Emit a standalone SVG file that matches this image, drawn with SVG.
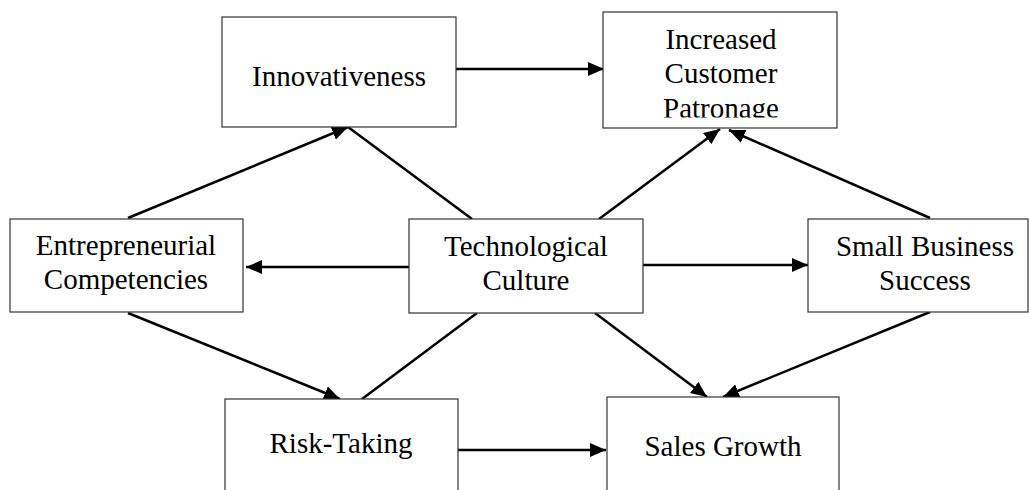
<svg xmlns="http://www.w3.org/2000/svg" width="1029" height="490" viewBox="0 0 1029 490">
  <style>
    .box { fill: #ffffff; stroke: #333333; stroke-width: 1.2; }
    .label { font-family: "Liberation Serif", "Times New Roman", serif; font-size: 29px; fill: #000000; text-anchor: middle; }
    .conn { stroke: #000000; stroke-width: 2.5; fill: none; }
    .arrow { marker-end: url(#head); }
  </style>
  <defs>
    <marker id="head" markerUnits="userSpaceOnUse" markerWidth="17" markerHeight="14" refX="16" refY="7" orient="auto">
      <path d="M0,0 L16,7 L0,14 Z" fill="#000000"/>
    </marker>
    <!-- third line of the patronage label is cut short by the frame -->
    <clipPath id="clip-icp">
      <rect x="603" y="12" width="234" height="105.5"/>
    </clipPath>
  </defs>
  <rect width="1029" height="490" fill="#ffffff"/>

  <!-- connectors -->
  <g id="connectors">
    <line class="conn arrow" x1="456" y1="69" x2="604" y2="69"/>
    <line class="conn arrow" x1="128" y1="218" x2="348" y2="127"/>
    <line class="conn" x1="472" y1="219" x2="348" y2="127"/>
    <line class="conn arrow" x1="599" y1="219" x2="720" y2="129"/>
    <line class="conn arrow" x1="930" y1="218" x2="729" y2="130"/>
    <line class="conn arrow" x1="409" y1="267" x2="246" y2="267"/>
    <line class="conn arrow" x1="643" y1="265" x2="808" y2="265"/>
    <line class="conn arrow" x1="128" y1="313" x2="340" y2="399"/>
    <line class="conn" x1="477" y1="313" x2="362" y2="399"/>
    <line class="conn arrow" x1="595" y1="313" x2="707" y2="397"/>
    <line class="conn arrow" x1="930" y1="312" x2="723" y2="397"/>
    <line class="conn arrow" x1="458" y1="450" x2="606" y2="450"/>
  </g>

  <g id="innovativeness">
    <rect class="box" x="222" y="17" width="234" height="110"/>
    <text class="label" x="339" y="86">Innovativeness</text>
  </g>

  <g id="increased-customer-patronage">
    <rect class="box" x="603" y="12" width="234" height="116"/>
    <g clip-path="url(#clip-icp)">
      <text class="label" x="721" y="49">Increased</text>
      <text class="label" x="721" y="83">Customer</text>
      <text class="label" x="721" y="118">Patronage</text>
    </g>
  </g>

  <g id="entrepreneurial-competencies">
    <rect class="box" x="10" y="219" width="233" height="93"/>
    <text class="label" x="126" y="255">Entrepreneurial</text>
    <text class="label" x="126" y="289">Competencies</text>
  </g>

  <g id="technological-culture">
    <rect class="box" x="409" y="219" width="234" height="94"/>
    <text class="label" x="526" y="256">Technological</text>
    <text class="label" x="526" y="290">Culture</text>
  </g>

  <g id="small-business-success">
    <rect class="box" x="808" y="219" width="220" height="93"/>
    <text class="label" x="925" y="256">Small Business</text>
    <text class="label" x="925" y="290">Success</text>
  </g>

  <g id="risk-taking">
    <rect class="box" x="225" y="399" width="233" height="110"/>
    <text class="label" x="341" y="453">Risk-Taking</text>
  </g>

  <g id="sales-growth">
    <rect class="box" x="607" y="397" width="232" height="110"/>
    <text class="label" x="723" y="456">Sales Growth</text>
  </g>
</svg>
